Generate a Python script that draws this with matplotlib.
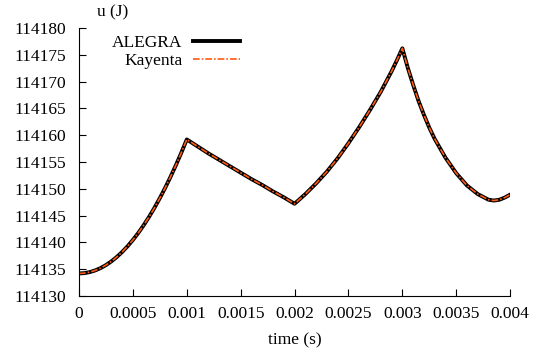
import matplotlib
matplotlib.use("Agg")
import matplotlib.pyplot as plt

plt.rcParams["font.family"] = ["Liberation Serif", "DejaVu Serif"]

# time (s) and internal energy u (J)
t = [0.0, 0.00005, 0.0001, 0.00015, 0.0002, 0.00025, 0.0003, 0.00035, 0.0004, 0.00045,
     0.0005, 0.00055, 0.0006, 0.00065, 0.0007, 0.00075, 0.0008, 0.00085, 0.0009, 0.00095,
     0.001, 0.0011, 0.0012, 0.0013, 0.0014, 0.0015, 0.0016, 0.0017, 0.0018, 0.0019,
     0.002, 0.00205, 0.0021, 0.00215, 0.0022, 0.00225, 0.0023, 0.0024, 0.0025, 0.0026,
     0.0027, 0.0028, 0.0029, 0.00295, 0.003, 0.00305, 0.0031, 0.00315, 0.0032, 0.00325,
     0.0033, 0.0034, 0.0035, 0.0036, 0.0037, 0.0038, 0.00385, 0.0039, 0.00395, 0.004]
u = [114134.2, 114134.26, 114134.45, 114134.76, 114135.2, 114135.76, 114136.45, 114137.26, 114138.2, 114139.26,
     114140.45, 114141.76, 114143.2, 114144.76, 114146.45, 114148.26, 114150.2, 114152.26, 114154.45, 114156.76,
     114159.2, 114157.9, 114156.6, 114155.4, 114154.2, 114153.0, 114151.8, 114150.7, 114149.5, 114148.4,
     114147.2, 114148.1, 114149.0, 114150.0, 114151.0, 114152.1, 114153.2, 114155.7, 114158.5, 114161.5,
     114164.7, 114168.1, 114171.9, 114174.0, 114176.2, 114172.6, 114169.4, 114166.4, 114163.8, 114161.4,
     114159.3, 114155.8, 114152.9, 114150.6, 114149.0, 114147.95, 114147.8, 114147.95, 114148.35, 114148.9]

xticks = [0, 0.0005, 0.001, 0.0015, 0.002, 0.0025, 0.003, 0.0035, 0.004]
xtick_labels = ["0", "0.0005", "0.001", "0.0015", "0.002", "0.0025", "0.003", "0.0035", "0.004"]
yticks = [114130, 114135, 114140, 114145, 114150, 114155, 114160, 114165, 114170, 114175, 114180]

fig = plt.figure(figsize=(5.45, 3.54), dpi=100)
ax = fig.add_axes([0.145, 0.164, 0.791, 0.757])

ax.plot(t, u, color="black", lw=2.8, label="ALEGRA")
ax.plot(t, u, color="#ff5a10", lw=1.2, dashes=(4, 1.2, 1, 1.2), label="Kayenta")

ax.set_xlim(0, 0.004)
ax.set_ylim(114130, 114180)
ax.set_xticks(xticks)
ax.set_xticklabels(xtick_labels)
ax.set_yticks(yticks)
ax.set_yticklabels([str(v) for v in yticks])
ax.tick_params(direction="in", length=5, width=0.8, labelsize=12.5)
ax.tick_params(axis="y", pad=9)
ax.tick_params(axis="x", pad=7)
ax.spines["top"].set_visible(False)
ax.spines["right"].set_visible(False)

ax.set_xlabel("time (s)", fontsize=12.5, labelpad=8)
ax.text(0.077, 1.03, "u (J)", transform=ax.transAxes, fontsize=12.5,
        ha="center", va="bottom")

ax.legend(loc="upper left", bbox_to_anchor=(0.049, 1.02), frameon=False,
          markerfirst=False, fontsize=12.5, handlelength=2.7, labelspacing=0.1,
          handletextpad=0.6, borderaxespad=0.3)

fig.savefig("out.png", dpi=100)
plt.close(fig)
